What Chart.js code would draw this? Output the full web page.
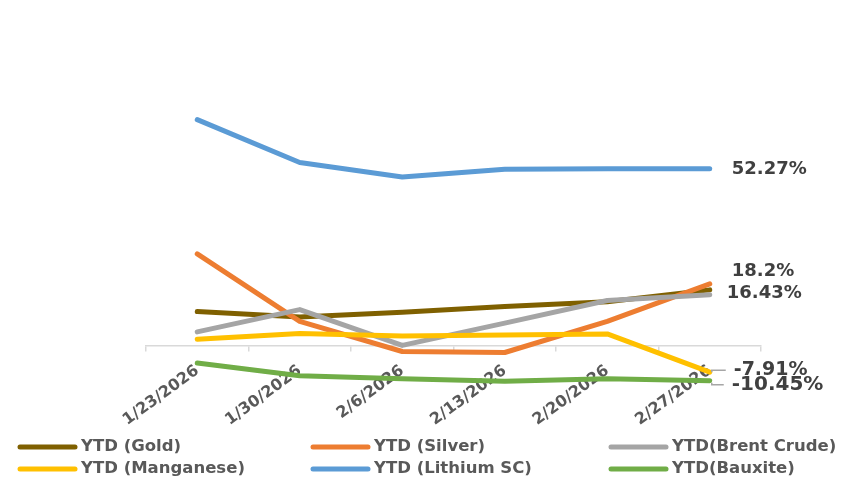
<!DOCTYPE html>
<html lang="en">
<head>
    <meta charset="UTF-8">
    <title>YTD Commodities</title>
    <script src="https://cdn.jsdelivr.net/npm/chart.js"></script>
    <style>
        html, body { margin: 0; padding: 0; background: #fff; }
        .chart-container { width: 843px; height: 485px; position: relative; }
    </style>
</head>
<body>
<div class="chart-container">
    <canvas id="ytd-chart"></canvas>
</div>

<script>
// week ending dates
const dates = ['1/23/2026', '1/30/2026', '2/6/2026', '2/13/2026', '2/20/2026', '2/27/2026'];

// YTD change in %
const gold      = [10.0, 8.4, 9.8, 11.5, 12.9, 16.43];
const silver    = [27.1, 7.1, -1.8, -2.1, 7.1, 18.2];
const brent     = [4.0, 10.6, 0.0, 6.6, 13.3, 15.0];
const manganese = [1.8, 3.5, 2.8, 3.1, 3.4, -7.91];
const lithium   = [66.8, 54.1, 49.8, 52.1, 52.3, 52.27];
const bauxite   = [-5.2, -9.0, -9.9, -10.6, -9.9, -10.45];

const seriesNames = ['YTD (Gold)', 'YTD (Silver)', 'YTD(Brent Crude)', 'YTD (Manganese)', 'YTD (Lithium SC)', 'YTD(Bauxite)'];
const seriesColors = ['#7f6000', '#ed7d31', '#a5a5a5', '#ffc000', '#5b9bd5', '#70ad47'];
const seriesData = [gold, silver, brent, manganese, lithium, bauxite];

// labels at the last point of some series
const endLabels = {
    id: 'endLabels',
    afterDatasetsDraw(chart, args, opts) {
        const ctx = chart.ctx;
        ctx.save();
        ctx.fillStyle = '#404040';
        ctx.textBaseline = 'middle';
        ctx.textAlign = 'left';
        opts.items.forEach(it => {
            const meta = chart.getDatasetMeta(it.ds);
            const last = meta.data.length - 1;
            const pt = meta.data[last];
            const v = chart.data.datasets[it.ds].data[last];
            const x = pt.x + it.dx;
            const y = pt.y + it.dy;
            if (it.leader) {
                ctx.strokeStyle = '#a6a6a6';
                ctx.lineWidth = 1.5;
                ctx.beginPath();
                ctx.moveTo(pt.x + 2, pt.y + (it.dy > 0 ? 2 : 0));
                ctx.lineTo(pt.x + 2, y);
                ctx.lineTo(x - 8, y);
                ctx.stroke();
            }
            ctx.font = 'bold ' + (it.size || 18) + 'px "DejaVu Sans"';
            ctx.fillText(v + '%', x, y);
        });
        ctx.restore();
    }
};

// legend laid out in 3 columns like the original
const gridLegend = {
    id: 'gridLegend',
    afterDraw(chart, args, opts) {
        const ctx = chart.ctx;
        ctx.save();
        ctx.font = 'bold 16.5px "DejaVu Sans"';
        ctx.fillStyle = '#595959';
        ctx.textBaseline = 'middle';
        ctx.lineCap = 'round';
        chart.data.datasets.forEach((ds, i) => {
            const col = i % 3, row = Math.floor(i / 3);
            const x = opts.cols[col], y = opts.rows[row];
            ctx.strokeStyle = ds.borderColor;
            ctx.lineWidth = 5;
            ctx.beginPath();
            ctx.moveTo(x, y);
            ctx.lineTo(x + opts.lineLen, y);
            ctx.stroke();
            ctx.fillText(ds.label, x + opts.lineLen + 6, y);
        });
        ctx.restore();
    }
};

const datasets = seriesData.map((d, i) => ({
    label: seriesNames[i],
    data: d,
    borderColor: seriesColors[i],
    backgroundColor: seriesColors[i],
    borderWidth: 5,
    borderCapStyle: 'round',
    borderJoinStyle: 'round',
    pointRadius: 0,
    tension: 0,
    order: seriesData.length - i
}));

new Chart(document.getElementById('ytd-chart'), {
    type: 'line',
    data: { labels: dates, datasets: datasets },
    options: {
        responsive: true,
        maintainAspectRatio: false,
        animation: false,
        layout: { padding: { left: 146, right: 82, top: 75, bottom: 72 } },
        scales: {
            x: {
                position: { y: 0 },
                offset: true,
                border: { display: true, color: '#d9d9d9', width: 1.5 },
                grid: { drawOnChartArea: false, drawTicks: true, tickLength: 5, color: '#d9d9d9', lineWidth: 1.5, offset: true },
                ticks: {
                    minRotation: 36, maxRotation: 36,
                    color: '#595959',
                    padding: 11,
                    font: { family: 'DejaVu Sans', size: 16, weight: 'bold' }
                }
            },
            y: {
                display: false,
                min: -20,
                max: 80
            }
        },
        plugins: {
            legend: { display: false },
            tooltip: { enabled: false },
            endLabels: {
                items: [
                    { ds: 4, dx: 22, dy: 1 },
                    { ds: 1, dx: 22, dy: -13 },
                    { ds: 0, dx: 17, dy: 3 },
                    { ds: 3, dx: 24, dy: -2, leader: true, size: 19 },
                    { ds: 5, dx: 22, dy: 4, leader: true, size: 20 }
                ]
            },
            gridLegend: {
                cols: [20, 313, 611],
                rows: [447, 469],
                lineLen: 55
            }
        }
    },
    plugins: [endLabels, gridLegend]
});
</script>
</body>
</html>
